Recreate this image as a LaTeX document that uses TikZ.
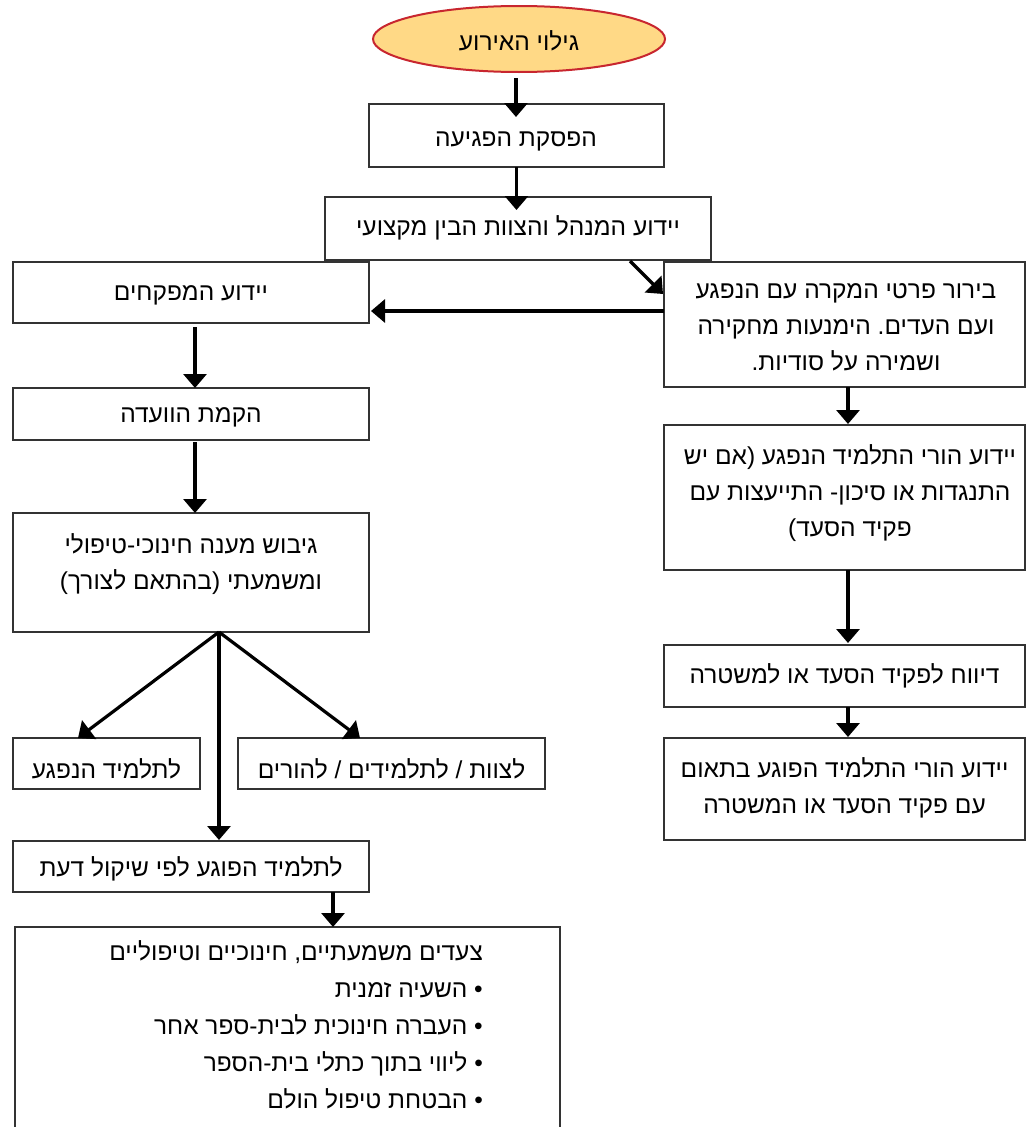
\documentclass[tikz,border=0pt]{standalone}
\usepackage{fontspec}
\setmainfont{Liberation Sans}
\newfontfamily\hebfont[Script=Hebrew]{Liberation Sans}
\TeXXeTstate=1
\frenchspacing
\usetikzlibrary{arrows.meta,shapes.geometric,calc}
\newcommand{\heb}[1]{{\hebfont\beginR #1\endR}}
\definecolor{ellfill}{HTML}{FFD986}
\definecolor{ellline}{HTML}{C8262F}
\begin{document}
\begin{tikzpicture}[x=1pt,y=-1pt,
  box/.style={draw=black!80, line width=1.1pt, fill=white, rectangle, inner sep=0pt, outer sep=0pt},
  txt/.style={font=\fontsize{24.5}{36}\selectfont, inner sep=0pt, align=center},
  arr/.style={line width=3.2pt, -{Triangle[width=23pt,length=14pt]}}]
\useasboundingbox (0,0) rectangle (1026,1127);
\fill[white] (0,0) rectangle (1026,1127);

% shapes
\node[ellipse, draw=ellline, fill=ellfill, line width=2pt, minimum width=292pt, minimum height=66pt, inner sep=0pt, outer sep=0pt] (ell) at (519,39) {};
\node[box, minimum width=295pt, minimum height=63pt] (b1) at (516.5,135.5) {};
\node[box, minimum width=386pt, minimum height=63pt] (b2) at (518,228.5) {};
\node[box, minimum width=356pt, minimum height=61pt] (b3) at (191,292.5) {};
\node[box, minimum width=361pt, minimum height=125pt] (b4) at (844.5,324.5) {};
\node[box, minimum width=356pt, minimum height=52pt] (b5) at (191,414) {};
\node[box, minimum width=356pt, minimum height=119pt] (b6) at (191,572.5) {};
\node[box, minimum width=187pt, minimum height=51pt] (b7) at (106.5,763.5) {};
\node[box, minimum width=307pt, minimum height=51pt] (b8) at (391.5,763.5) {};
\node[box, minimum width=356pt, minimum height=51pt] (b9) at (191,866.5) {};
\node[box, minimum width=545pt, minimum height=213pt] (b10) at (287.5,1033.5) {};
\node[box, minimum width=361pt, minimum height=145pt] (b11) at (844.5,497.5) {};
\node[box, minimum width=361pt, minimum height=62pt] (b12) at (844.5,676) {};
\node[box, minimum width=361pt, minimum height=102pt] (b13) at (844.5,789) {};

% texts
\node[txt] (t0) at (519,41) {\heb{גילוי האירוע}};
\node[txt] (t1) at (516,141) {\heb{הפסקת הפגיעה}};
\node[txt] (t2) at (518,228) {\heb{יידוע המנהל והצוות הבין מקצועי}};
\node[txt] (t3) at (191,295) {\heb{יידוע המפקחים}};
\node[txt] (t4) at (846,327) {\heb{בירור פרטי המקרה עם הנפגע}\\\heb{ועם העדים. הימנעות מחקירה}\\\heb{ושמירה על סודיות.}};
\node[txt] (t5) at (191,417) {\heb{הקמת הוועדה}};
\node[txt] (t6) at (191,564) {\heb{גיבוש מענה חינוכי-טיפולי}\\\heb{ומשמעתי (בהתאם לצורך)}};
\node[txt] (t7) at (106.5,769) {\heb{לתלמיד הנפגע}};
\node[txt] (t8) at (391.5,769) {\heb{לצוות / לתלמידים / להורים}};
\node[txt] (t9) at (191,869) {\heb{לתלמיד הפוגע לפי שיקול דעת}};
\node[txt] (t11) at (850,493) {\heb{יידוע הורי התלמיד הנפגע (אם יש}\\\heb{התנגדות או סיכון- התייעצות עם}\\\heb{פקיד הסעד)}};
\node[txt] (t12) at (844.5,676) {\heb{דיווח לפקיד הסעד או למשטרה}};
\node[txt] (t13) at (844.5,788) {\heb{יידוע הורי התלמיד הפוגע בתאום}\\\heb{עם פקיד הסעד או המשטרה}};
\node[txt, align=right, anchor=north east, font=\fontsize{24.5}{37}\selectfont] (t10) at (483,940) {\heb{צעדים משמעתיים, חינוכיים וטיפוליים}\\\heb{• השעיה זמנית}\\\heb{• העברה חינוכית לבית-ספר אחר}\\\heb{• ליווי בתוך כתלי בית-הספר}\\\heb{• הבטחת טיפול הולם}};

% connectors
\draw[arr] ($(ell.south)+(-3,6)$) -- ($(b1.north)+(-0.5,13)$);
\draw[arr] (b1.south) -- ($(b2.north)+(-1.5,13)$);
\draw[arr] ($(b2.south)+(112,1)$) -- ($(b4.north west)+(-1,32)$);
\draw[arr] ($(b4.west)+(0,-13.5)$) -- ($(b3.east)+(2,18.5)$);
\draw[arr] ($(b3.south)+(4,4)$) -- ($(b5.north)+(4,0)$);
\draw[arr] ($(b5.south)+(4,2)$) -- ($(b6.north)+(4,0)$);
\coordinate (f) at ($(b6.south)+(28,0)$);
\draw[arr] (f) -- ($(b7.north west)+(65,0)$);
\draw[arr] (f) -- ($(b8.north west)+(122,0)$);
\draw[arr] (f) -- ($(b9.north)+(28,-1)$);
\draw[arr] ($(b9.south)+(142,0)$) -- ($(b10.north west)+(318,0)$);
\draw[arr] ($(b4.south)+(3.5,0)$) -- ($(b11.north)+(3.5,-1)$);
\draw[arr] ($(b11.south)+(3.5,0)$) -- ($(b12.north)+(3.5,-2)$);
\draw[arr] ($(b12.south)+(3.5,0)$) -- ($(b13.north)+(3.5,-1)$);
\end{tikzpicture}
\end{document}
